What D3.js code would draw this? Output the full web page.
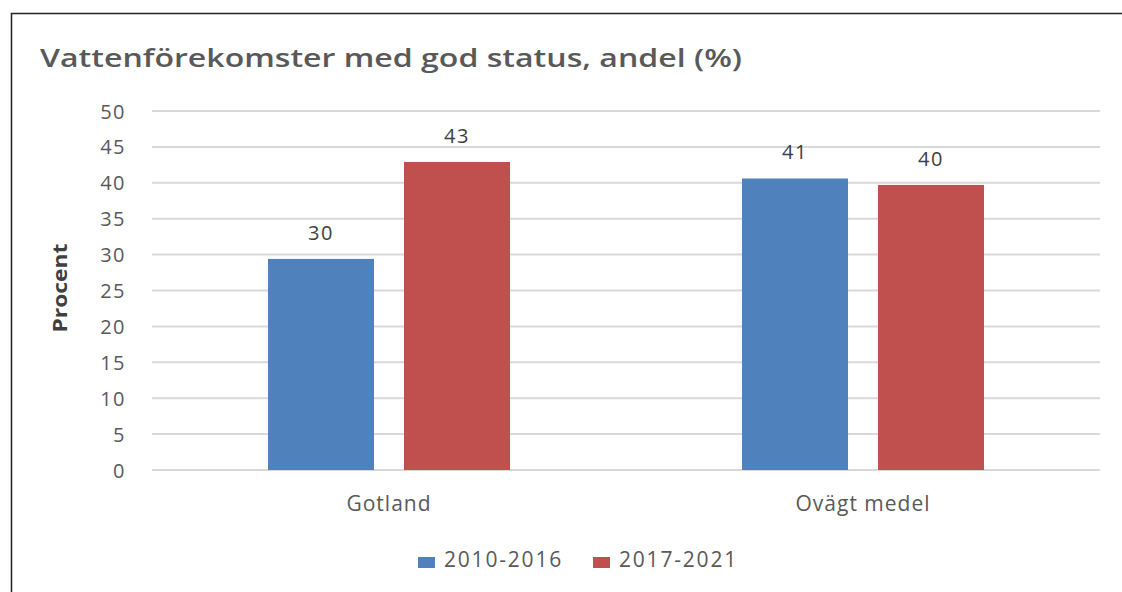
<!DOCTYPE html>
<html><head><meta charset="utf-8">
<script src="https://cdn.jsdelivr.net/npm/d3@7"></script>
<style>body{margin:0;background:#fff}svg{display:block}text{font-family:"Open Sans",sans-serif}</style>
</head><body>
<svg id="c" width="1122" height="592"></svg>
<script>
const categories = ["Gotland", "Ovägt medel"];
const series = ["2010-2016", "2017-2021"];
const values2010 = [29.4, 40.6];
const values2017 = [42.9, 39.7];
const labels2010 = ["30", "41"];
const labels2017 = ["43", "40"];
const yTicks = [0,5,10,15,20,25,30,35,40,45,50];
const colors = ["#4f81bd", "#c0504d"];

const svg = d3.select("#c");
svg.append("rect").attr("x",11.5).attr("y",13.5).attr("width",1130).attr("height",600)
  .attr("fill","#fff").attr("stroke","#222").attr("stroke-width",1.5);

const x0 = d3.scaleBand().domain(categories).range([152,1100]);
const y = d3.scaleLinear().domain([0,50]).range([470,111]);
const x1 = d3.scaleBand().domain(series).range([-121,121]).paddingInner(30/136);

svg.append("text").attr("x",40).attr("y",67).attr("font-size",25).attr("font-weight",600)
  .attr("textLength",702).attr("lengthAdjust","spacingAndGlyphs")
  .attr("fill","#595959").text("Vattenförekomster med god status, andel (%)");

const g = svg.append("g");
g.selectAll("line.grid").data(yTicks).join("line")
  .attr("x1",152).attr("x2",1100).attr("y1",d=>y(d)).attr("y2",d=>y(d))
  .attr("stroke","#d9d9d9").attr("stroke-width",2);
g.selectAll("text.tick").data(yTicks).join("text")
  .attr("x",126).attr("y",d=>y(d)+7.5).attr("text-anchor","end").attr("font-size",20)
  .attr("letter-spacing",1.5).attr("fill","#595959").text(d=>d);

svg.append("text").attr("transform","translate(67,288) rotate(-90)").attr("text-anchor","middle")
  .attr("font-size",20).attr("font-weight","bold").attr("fill","#404040")
  .attr("textLength",89).attr("lengthAdjust","spacingAndGlyphs").text("Procent");

const data = [values2010, values2017];
const labs = [labels2010, labels2017];
series.forEach((s,si)=>{
  categories.forEach((c,ci)=>{
    const cx = x0(c)+x0.bandwidth()/2 + x1(s);
    const v = data[si][ci];
    svg.append("rect").attr("x",cx).attr("y",y(v)).attr("width",x1.bandwidth()).attr("height",y(0)-y(v)).attr("fill",colors[si]);
    svg.append("text").attr("x",cx+x1.bandwidth()/2).attr("y",y(v)-19).attr("text-anchor","middle")
      .attr("font-size",20).attr("letter-spacing",1.5).attr("fill","#404040").text(labs[si][ci]);
  });
});

svg.selectAll("text.cat").data(categories).join("text")
  .attr("x",d=>x0(d)+x0.bandwidth()/2).attr("y",511).attr("text-anchor","middle")
  .attr("font-size",21).attr("letter-spacing",1).attr("fill","#595959").text(d=>d);

const lx = [418, 593];
series.forEach((s,i)=>{
  svg.append("rect").attr("x",lx[i]).attr("y",557).attr("width",17).attr("height",11).attr("fill",colors[i]);
  svg.append("text").attr("x",lx[i]+26).attr("y",567).attr("font-size",21).attr("letter-spacing",1.8)
    .attr("fill","#595959").text(s);
});
</script>
</body></html>
